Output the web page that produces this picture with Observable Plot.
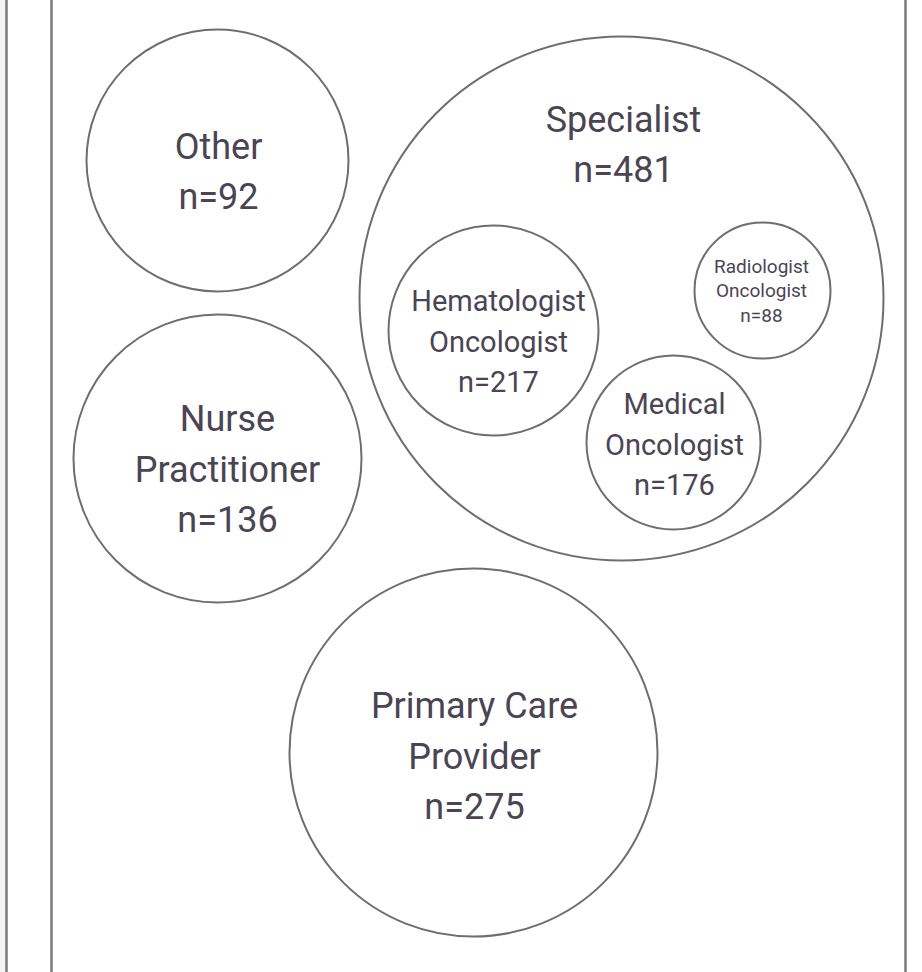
<!DOCTYPE html>
<html>
<head>
<meta charset="utf-8">
<script src="https://cdn.jsdelivr.net/npm/d3@7"></script>
<script src="https://cdn.jsdelivr.net/npm/@observablehq/plot@0.6"></script>
<style>
  html, body { margin: 0; padding: 0; background: #ffffff; }
  #chart { width: 922px; height: 972px; position: relative;
           background: linear-gradient(to right, #f4f4f4 0px, #f4f4f4 5px, #ffffff 5px); }
  svg { display: block; }
</style>
</head>
<body>
<div id="chart"></div>
<script>
// ---- data ----
const categories = ["Other", "Nurse Practitioner", "Specialist", "Hematologist Oncologist", "Medical Oncologist", "Radiologist Oncologist", "Primary Care Provider"];
const labelLines = [["Other"], ["Nurse", "Practitioner"], ["Specialist"], ["Hematologist", "Oncologist"], ["Medical", "Oncologist"], ["Radiologist", "Oncologist"], ["Primary Care", "Provider"]];
const counts = [92, 136, 481, 217, 176, 88, 275];
const parent = [null, null, null, "Specialist", "Specialist", "Specialist", null];

// ---- layout (abstract bubble layout units, mapped through Plot scales) ----
const layoutX = [217, 217, 621, 493, 673, 762, 473];
const layoutY = [160, 458, 298, 330, 442, 290, 752];
const layoutR = [131, 144, 262, 105, 87, 68, 184];
const labelX  = [218, 227, 623, 498, 674, 761, 474];
const labelY  = [167, 465, 140, 338, 441, 289, 752];
const labelSize = [36, 36, 36, 29, 29, 19, 36];
const frameRules = [6, 51, 905];

const nodes = categories.map((c, i) => ({
  name: c,
  n: counts[i],
  parent: parent[i],
  x: layoutX[i], y: layoutY[i], r: layoutR[i],
  lx: labelX[i], ly: labelY[i],
  size: labelSize[i],
  text: labelLines[i].concat(["n=" + counts[i]]).join("\n")
}));

const textMarks = [...new Set(labelSize)].map(s =>
  Plot.text(nodes.filter(d => d.size === s), {
    x: "lx", y: "ly", text: "text",
    fontSize: s, lineHeight: s >= 36 ? 1.39 : (s >= 28 ? 1.41 : 1.29),
    lineAnchor: "middle", textAnchor: "middle",
    fill: "#4b4453", fontFamily: "Roboto, sans-serif", fontWeight: 400
  })
);

const chart = Plot.plot({
  width: 922, height: 972,
  margin: 0,
  x: {domain: [0, 922], range: [0, 922], axis: null},
  y: {domain: [0, 972], range: [0, 972], axis: null},
  r: {type: "identity"},
  style: {fontFamily: "Roboto, sans-serif", background: "transparent"},
  marks: [
    Plot.ruleX(frameRules, {stroke: "#7a7a7a", strokeWidth: 2.5}),
    Plot.dot(nodes, {x: "x", y: "y", r: "r", fill: "white", fillOpacity: 0, stroke: "#6e6e6e", strokeWidth: 2}),
    ...textMarks
  ]
});
document.getElementById("chart").appendChild(chart);
</script>
</body>
</html>
